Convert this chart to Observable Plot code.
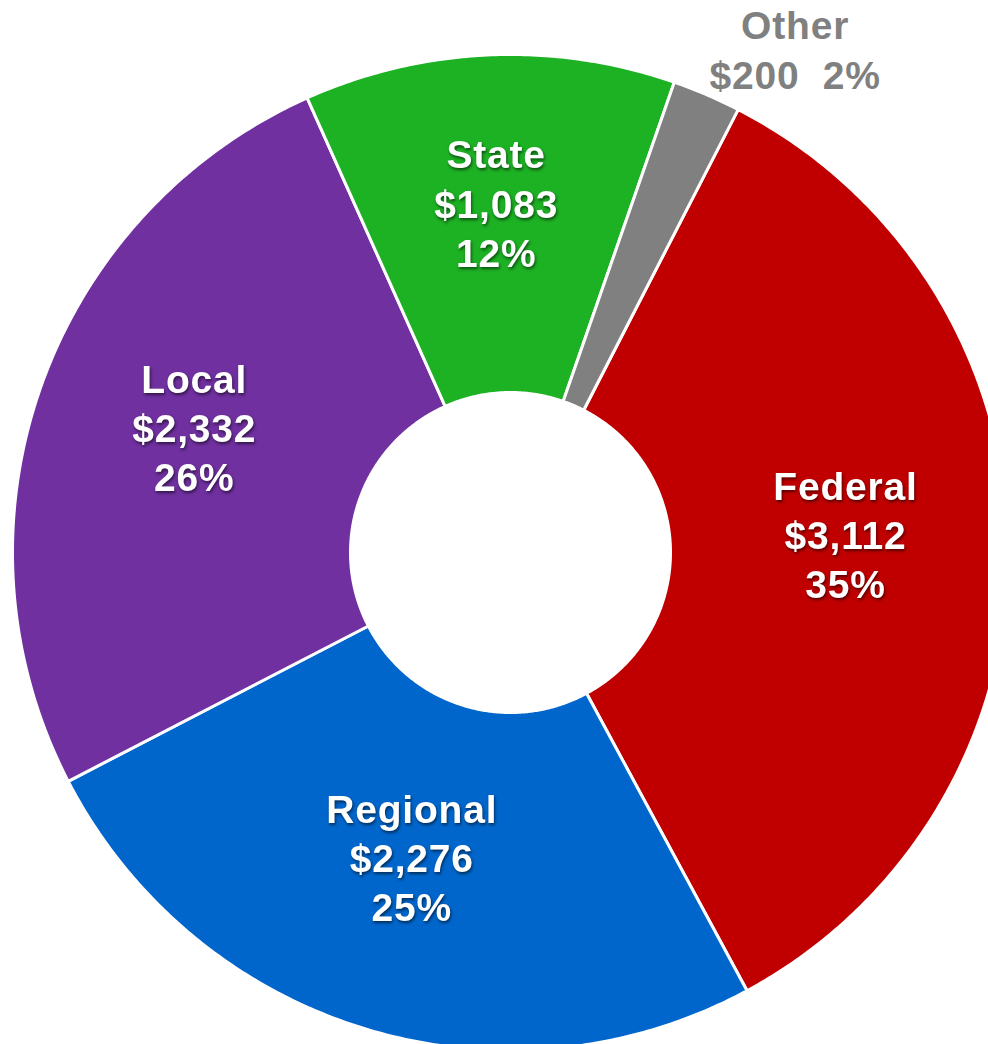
<!DOCTYPE html>
<html>
<head>
<meta charset="utf-8">
<script src="https://cdn.jsdelivr.net/npm/d3@7"></script>
<script src="https://cdn.jsdelivr.net/npm/@observablehq/plot@0.6"></script>
<style>
  html, body { margin: 0; padding: 0; background: #fff; }
  #chart svg { display: block; }
</style>
</head>
<body>
<div id="chart"></div>
<script>
// ---- data ----
const categories = ["Federal", "Regional", "Local", "State", "Other"];
const values = [3112, 2276, 2332, 1083, 200];
const colors = ["#C00000", "#0066CC", "#7030A0", "#1DB124", "#808080"];

// ---- layout constants ----
const W = 988, H = 1044;
const cx = 510, cy = 552;
const rOuter = 498, rInner = 160, rLabel = 335;
const rotation = 27.2 * Math.PI / 180;

const total = d3.sum(values);
const data = categories.map((c, i) => ({category: c, value: values[i]}));
const arcs = d3.pie().sort(null).value(d => d.value)
  .startAngle(rotation).endAngle(rotation + 2 * Math.PI)(data);

// polygon points for each slice
const pts = [];
arcs.forEach(a => {
  const n = Math.max(8, Math.ceil((a.endAngle - a.startAngle) * 120));
  for (let k = 0; k <= n; k++) {
    const t = a.startAngle + (a.endAngle - a.startAngle) * k / n;
    pts.push({category: a.data.category, x: Math.sin(t) * rOuter, y: -Math.cos(t) * rOuter});
  }
  for (let k = n; k >= 0; k--) {
    const t = a.startAngle + (a.endAngle - a.startAngle) * k / n;
    pts.push({category: a.data.category, x: Math.sin(t) * rInner, y: -Math.cos(t) * rInner});
  }
});

const fmt = d3.format("$,");
const pct = v => Math.round(v / total * 100) + "%";

const inside = arcs.filter(a => a.data.category !== "Other").map(a => {
  const m = (a.startAngle + a.endAngle) / 2;
  return {
    category: a.data.category,
    x: Math.sin(m) * rLabel, y: -Math.cos(m) * rLabel,
    text: `${a.data.category}\n${fmt(a.data.value)}\n${pct(a.data.value)}`
  };
});
const outside = arcs.filter(a => a.data.category === "Other").map(a => {
  const m = (a.startAngle + a.endAngle) / 2;
  const r = rOuter + 62;
  return {
    category: a.data.category,
    x: Math.sin(m) * r, y: -Math.cos(m) * r,
    text: `${a.data.category}\n${fmt(a.data.value)}\u00a0\u00a0${pct(a.data.value)}`
  };
});

const chart = Plot.plot({
  width: W, height: H,
  margin: 0,
  x: {domain: [-cx, W - cx], range: [0, W], axis: null},
  y: {domain: [-cy, H - cy], range: [0, H], axis: null},
  color: {domain: categories, range: colors},
  style: {fontFamily: "'Liberation Sans', Arial, sans-serif", background: "#fff"},
  marks: [
    Plot.line(pts, {x: "x", y: "y", z: "category", fill: "category", stroke: "#fff", strokeWidth: 3, curve: "linear-closed"}),
    Plot.text(inside, {x: "x", y: "y", text: "text", fill: "#fff", fontSize: 39, fontWeight: "bold", lineHeight: 1.26, lineAnchor: "middle", dy: -16, className: "inlbl"}),
    Plot.text(outside, {x: "x", y: "y", text: "text", fill: "#808080", fontSize: 39, fontWeight: "bold", lineHeight: 1.3, lineAnchor: "middle", dx: 64, dy: 10, className: "outlbl"})
  ]
});
document.getElementById("chart").appendChild(chart);
d3.select(chart).selectAll(".inlbl text, .outlbl text").attr("letter-spacing", "0.8px");
d3.select(chart).selectAll(".inlbl text").style("filter", "drop-shadow(1.5px 2px 1.5px rgba(0,0,0,0.55))");
</script>
</body>
</html>
